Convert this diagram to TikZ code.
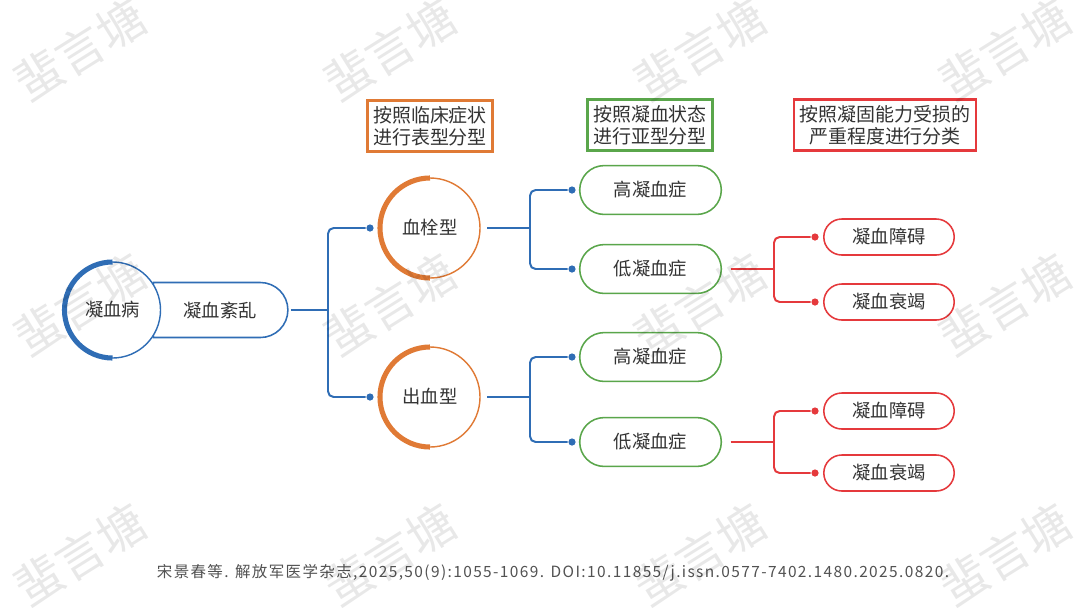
\documentclass[tikz,border=0pt]{standalone}
\usepackage{fontspec}
\setmainfont{Noto Sans CJK SC}
\newfontfamily\cjk{Noto Sans CJK SC}
\newfontfamily\cjkwide[LetterSpace=9]{Noto Sans CJK SC}
\usetikzlibrary{positioning, shapes.misc, calc}
\definecolor{cblue}{HTML}{2F6DB5}
\definecolor{corange}{HTML}{E07A35}
\definecolor{cgreen}{HTML}{5AA64B}
\definecolor{cred}{HTML}{E5393C}
\definecolor{ctext}{HTML}{333333}
\tikzset{
  every picture/.style={font=\cjk, line width=1pt},
  pill/.style={rounded rectangle, draw=#1, fill=white, line width=1.1pt, text=ctext, inner sep=2pt,
               font=\cjk\fontsize{13}{15}\selectfont},
  hub/.style={circle, draw=#1, fill=white, line width=1pt, outer sep=0pt, inner sep=0pt, text=ctext,
              font=\cjk\fontsize{13}{15}\selectfont},
  arcline/.style={draw=#1, line width=3.6pt},
  tag/.style={draw=#1, line width=1.6pt, fill=white, align=center, text=ctext, inner sep=4pt,
              font=\cjk\fontsize{13.5}{15.8}\selectfont},
  link/.style={draw=#1, line width=1.4pt, rounded corners=4pt},
  dot/.style={circle, fill=#1, inner sep=0pt, minimum size=0.18cm},
  wm/.style={text=black, opacity=0.09, rotate=32, font=\cjk\fontsize{34}{36}\selectfont},
  note/.style={text=ctext!85, font=\cjkwide\fontsize{11}{13}\selectfont},
}
\begin{document}
\begin{tikzpicture}[x=0.025cm, y=-0.025cm]
  \useasboundingbox[fill=white] (0,0) rectangle (1080,608);

  % ---- root: disease and its disorder
  \node[pill=cblue, rounded rectangle left arc=none, minimum width=3.5cm, minimum height=1.375cm] (dis) at (220,310) {凝血紊乱};
  \node[hub=cblue, minimum size=2.4cm] (root) at (112.5,310) {凝血病};
  \draw[arcline=cblue] (root.north) arc[start angle=90, end angle=270, radius=1.2cm];

  % ---- column headings
  \node[tag=corange] (tagA) at (430,126) {按照临床症状\\进行表型分型};
  \node[tag=cgreen] (tagB) at (650,125) {按照凝血状态\\进行亚型分型};
  \node[tag=cred] (tagC) at (885,125) {按照凝固能力受损的\\严重程度进行分类};

  \coordinate (j0) at (328,310);
  \draw[link=cblue, shorten <=1.5pt] (dis.east) -- (j0);

  % ---- two phenotypes, each split by coagulation state
  \foreach \n/\y/\t/\hy/\ly/\ay/\by in {thr/228/血栓型/190/269/237/302,
                                      ble/397/出血型/357/442/411/473}
  {
    \node[dot=cblue] (\n-d) at (370,\y) {};
    \node[hub=corange, minimum size=2.5cm] (\n) at (430,\y) {\t};
    \draw[arcline=corange] (\n.north) arc[start angle=90, end angle=270, radius=1.25cm];
    \draw[link=cblue] (j0) |- (\n-d);

    \coordinate (\n-j) at (530,\y);
    \draw[link=cblue, shorten <=5pt] (\n.east) -- (\n-j);
    \node[pill=cgreen, minimum width=3.68cm, minimum height=1.22cm] (\n-hi) at (650.5,\hy) {高凝血症};
    \node[pill=cgreen, minimum width=3.68cm, minimum height=1.22cm] (\n-lo) at (650.5,\ly) {低凝血症};
    \node[dot=cblue] (\n-hd) at (572,\hy) {};
    \node[dot=cblue] (\n-ld) at (572,\ly) {};
    \draw[link=cblue] (\n-hd) -| (\n-j) |- (\n-ld);

    \coordinate (\n-rj) at (774,\ly);
    \draw[link=cred, shorten <=6pt] (\n-lo.east) -- (\n-rj);
    \node[pill=cred, minimum width=3.4cm, minimum height=0.9cm] (\n-ra) at (889,\ay) {凝血障碍};
    \node[pill=cred, minimum width=3.4cm, minimum height=0.9cm] (\n-rb) at (889,\by) {凝血衰竭};
    \node[dot=cred] (\n-ad) at (815,\ay) {};
    \node[dot=cred] (\n-bd) at (815,\by) {};
    \draw[link=cred] (\n-ad) -| (\n-rj) |- (\n-bd);
  }

  \node[note] (src) at (553,573) {宋景春等. 解放军医学杂志,2025,50(9):1055-1069. DOI:10.11855/j.issn.0577-7402.1480.2025.0820.};

  % ---- watermark
  \foreach \x in {80,390,700,1005}
    \foreach \y in {50,305,555}
      \node[wm] (wm-\x-\y) at (\x,\y) {蜚言塘};
\end{tikzpicture}
\end{document}
